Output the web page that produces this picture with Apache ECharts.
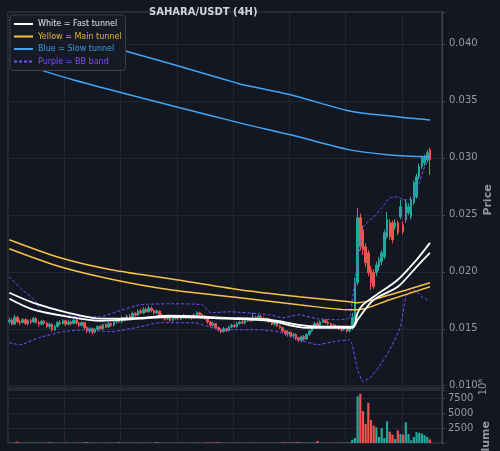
<!DOCTYPE html>
<html>
<head>
<meta charset="utf-8">
<script src="https://cdn.jsdelivr.net/npm/echarts@6.0.0/dist/echarts.min.js"></script>
<style>
  html, body { margin: 0; padding: 0; background: #131722; }
  #chart { width: 500px; height: 451px; }
</style>
</head>
<body>
<div id="chart"></div>
<script>
// prices in units of 1e-5 USDT, one candle per 4H slot
const opens = [
  1560, 1575, 1540, 1600, 1560, 1555, 1580, 1545, 1570, 1560,
  1590, 1555, 1540, 1565, 1550, 1520, 1540, 1490, 1520, 1555,
  1545, 1570, 1540, 1560, 1545, 1575, 1550, 1530, 1555, 1510,
  1480, 1500, 1470, 1495, 1520, 1500, 1535, 1515, 1545, 1530,
  1560, 1575, 1560, 1595, 1580, 1610, 1600, 1635, 1620, 1655,
  1640, 1670, 1650, 1680, 1660, 1640, 1655, 1620, 1600, 1585,
  1600, 1575, 1590, 1605, 1585, 1600, 1615, 1595, 1610, 1595,
  1620, 1640, 1625, 1610, 1590, 1560, 1530, 1545, 1510, 1490,
  1475, 1500, 1485, 1515, 1530, 1520, 1545, 1560, 1550, 1570,
  1585, 1570, 1600, 1590, 1610, 1595, 1580, 1590, 1560, 1540,
  1550, 1525, 1510, 1480, 1455, 1470, 1440, 1450, 1420, 1400,
  1430, 1410, 1450, 1480, 1510, 1545, 1530, 1560, 1575, 1555,
  1545, 1530, 1515, 1525, 1505, 1490, 1500, 1480, 1509, 1600,
  1904, 2474, 2368, 2219, 2167, 2018, 1991, 1991, 2044, 2088,
  2132, 2307, 2430, 2430, 2395, 2430, 2482, 2412, 2456, 2518,
  2482, 2605, 2658, 2833, 2921, 2956, 2982, 3070
]
const closes = [
  1575, 1540, 1600, 1560, 1555, 1580, 1545, 1570, 1560, 1590,
  1555, 1540, 1565, 1550, 1520, 1540, 1490, 1520, 1555, 1545,
  1570, 1540, 1560, 1545, 1575, 1550, 1530, 1555, 1510, 1480,
  1500, 1470, 1495, 1520, 1500, 1535, 1515, 1545, 1530, 1560,
  1575, 1560, 1595, 1580, 1610, 1600, 1635, 1620, 1655, 1640,
  1670, 1650, 1680, 1660, 1640, 1655, 1620, 1600, 1585, 1600,
  1575, 1590, 1605, 1585, 1600, 1615, 1595, 1610, 1595, 1620,
  1640, 1625, 1610, 1590, 1560, 1530, 1545, 1510, 1490, 1475,
  1500, 1485, 1515, 1530, 1520, 1545, 1560, 1550, 1570, 1585,
  1570, 1600, 1590, 1610, 1595, 1580, 1590, 1560, 1540, 1550,
  1525, 1510, 1480, 1455, 1470, 1440, 1450, 1420, 1400, 1430,
  1410, 1450, 1480, 1510, 1545, 1530, 1560, 1575, 1555, 1545,
  1530, 1515, 1525, 1505, 1490, 1500, 1480, 1509, 1600, 1904,
  2474, 2219, 2193, 2079, 1991, 1904, 1870, 2060, 2105, 2167,
  2342, 2456, 2307, 2281, 2430, 2342, 2570, 2351, 2605, 2570,
  2632, 2781, 2833, 2921, 3000, 3000, 3044, 2982
]
const lows = [
  1545, 1530, 1535, 1550, 1530, 1545, 1535, 1530, 1540, 1550,
  1545, 1520, 1530, 1535, 1505, 1500, 1475, 1480, 1510, 1530,
  1535, 1525, 1530, 1530, 1540, 1535, 1515, 1520, 1495, 1460,
  1455, 1450, 1460, 1480, 1490, 1490, 1505, 1505, 1515, 1520,
  1545, 1550, 1550, 1565, 1570, 1590, 1590, 1605, 1610, 1630,
  1630, 1640, 1640, 1645, 1625, 1630, 1610, 1585, 1570, 1575,
  1560, 1565, 1580, 1575, 1575, 1590, 1585, 1585, 1580, 1590,
  1610, 1615, 1600, 1580, 1545, 1515, 1520, 1495, 1475, 1460,
  1465, 1470, 1475, 1505, 1510, 1510, 1535, 1540, 1540, 1560,
  1560, 1565, 1580, 1580, 1585, 1570, 1570, 1550, 1530, 1525,
  1515, 1500, 1465, 1440, 1430, 1425, 1420, 1400, 1385, 1380,
  1395, 1400, 1440, 1470, 1500, 1520, 1520, 1550, 1545, 1530,
  1520, 1505, 1500, 1490, 1475, 1480, 1465, 1470, 1490, 1580,
  1880, 2190, 2150, 2040, 1960, 1842, 1850, 1960, 2010, 2060,
  2110, 2290, 2280, 2250, 2370, 2320, 2460, 2330, 2430, 2500,
  2460, 2590, 2640, 2810, 2900, 2930, 2960, 2850
]
const highs = [
  1600, 1590, 1625, 1610, 1580, 1595, 1590, 1585, 1590, 1605,
  1600, 1570, 1580, 1575, 1560, 1555, 1545, 1535, 1570, 1575,
  1585, 1580, 1580, 1570, 1590, 1585, 1560, 1565, 1560, 1520,
  1515, 1510, 1505, 1530, 1535, 1545, 1550, 1560, 1555, 1575,
  1590, 1595, 1610, 1605, 1625, 1630, 1650, 1645, 1670, 1675,
  1690, 1685, 1700, 1695, 1670, 1670, 1660, 1635, 1610, 1615,
  1610, 1605, 1620, 1615, 1620, 1630, 1625, 1625, 1620, 1635,
  1655, 1650, 1635, 1620, 1600, 1570, 1560, 1550, 1520, 1505,
  1515, 1510, 1525, 1545, 1545, 1560, 1570, 1575, 1585, 1600,
  1595, 1640, 1615, 1625, 1620, 1605, 1600, 1595, 1570, 1565,
  1555, 1535, 1520, 1490, 1485, 1475, 1465, 1460, 1430, 1440,
  1445, 1460, 1495, 1520, 1560, 1565, 1575, 1590, 1585, 1570,
  1555, 1545, 1540, 1530, 1515, 1515, 1505, 1520, 1640, 1950,
  2561, 2510, 2400, 2250, 2190, 2050, 2020, 2090, 2130, 2190,
  2370, 2526, 2460, 2450, 2460, 2450, 2632, 2440, 2630, 2600,
  2660, 2800, 2860, 2950, 3020, 3030, 3070, 3088
]
// volume, x 10^6
const volumes = [
  60, 45, 90, 220, 50, 40, 70, 35, 55, 80,
  40, 30, 65, 50, 45, 120, 90, 40, 30, 55,
  35, 60, 45, 30, 50, 40, 70, 55, 110, 140,
  90, 60, 45, 70, 40, 35, 55, 80, 45, 60,
  50, 130, 45, 60, 40, 50, 70, 45, 90, 60,
  40, 55, 35, 65, 45, 170, 60, 40, 35, 50,
  45, 60, 40, 35, 55, 45, 30, 50, 40, 60,
  75, 45, 40, 60, 90, 110, 60, 80, 140, 70,
  50, 45, 60, 40, 35, 55, 45, 40, 60, 50,
  35, 70, 45, 40, 55, 40, 35, 50, 60, 45,
  40, 55, 90, 130, 80, 100, 75, 120, 150, 90,
  70, 60, 80, 75, 95, 350, 60, 45, 40, 55,
  40, 50, 35, 45, 60, 55, 70, 90, 550, 830,
  7800, 8200, 5300, 3200, 6700, 3800, 2900, 2600, 1000, 2500,
  830, 3600, 1900, 1400, 670, 2100, 1500, 1400, 3450, 1500,
  450, 1000, 1800, 1700, 1560, 1280, 1000, 600
]

// indicator lines, [candle index, price]
const fastUpper = [[0, 1816], [9, 1728], [22, 1640], [34, 1588], [49, 1596], [60, 1614], [81, 1596], [97, 1579],
  [111, 1526], [128, 1518], [130, 1640], [132, 1711], [136, 1781], [145, 1930], [152, 2105], [157, 2254]]
const fastLower = [[0, 1763], [9, 1667], [22, 1605], [34, 1570], [49, 1588], [60, 1605], [81, 1588], [97, 1570],
  [111, 1509], [128, 1509], [130, 1579], [136, 1754], [145, 1868], [152, 2044], [157, 2167]]
const mainUpper = [[0, 2281], [19, 2123], [38, 2018], [60, 1939], [86, 1842], [108, 1781], [127, 1737], [130, 1728],
  [142, 1798], [157, 1904]]
const mainLower = [[0, 2202], [19, 2044], [39, 1930], [60, 1842], [86, 1772], [108, 1711], [127, 1667], [130, 1667],
  [142, 1755], [157, 1868]]
const slowUpper = [[0, 4211], [42, 3947], [81, 3684], [86, 3649], [105, 3553], [127, 3412], [142, 3368], [157, 3333]]
const slowLower = [[0, 3860], [24, 3684], [86, 3307], [105, 3202], [127, 3070], [142, 3026], [157, 3009]]
const bbUpper = [[0, 1956], [4, 1860], [10, 1737], [12, 1649], [19, 1623], [26, 1605], [34, 1605], [40, 1649],
  [49, 1711], [60, 1719], [72, 1711], [75, 1640], [82, 1649], [97, 1623], [102, 1596], [108, 1623], [115, 1588],
  [123, 1579], [127, 1596], [128, 1754], [130, 2079], [132, 2395], [136, 2482], [139, 2561], [142, 2649],
  [145, 2658], [147, 2632], [150, 2632], [153, 2781], [155, 2921], [157, 3009]]
const bbLower = [[0, 1377], [4, 1360], [11, 1421], [20, 1474], [28, 1491], [38, 1474], [49, 1518], [56, 1553],
  [69, 1553], [79, 1491], [94, 1491], [102, 1465], [108, 1404], [115, 1360], [121, 1386], [127, 1404], [128, 1360],
  [130, 1140], [132, 1035], [135, 1079], [138, 1167], [142, 1316], [146, 1518], [148, 1781], [151, 1842],
  [154, 1781], [156, 1754], [157, 1745]]

const priceTicks = [1000, 1500, 2000, 2500, 3000, 3500, 4000]
const volumeTicks = [2500, 5000, 7500]
const slotCount = 162
const slots = Array.from({ length: slotCount }, (_, i) => String(i))

const UP = '#26a69a'
const DOWN = '#ef5350'
const GRID_LINE = '#232733'
const FRAME = '#434651'
const LABEL = '#9598a1'

const candles = opens.map((o, i) => [o, closes[i], lows[i], highs[i]])
const volumeBars = volumes.map((v, i) => ({
  value: v,
  itemStyle: { color: closes[i] >= opens[i] ? UP : DOWN }
}))

function tunnel(name, data, color, width, dashed) {
  return {
    name: name,
    type: 'line',
    xAxisIndex: 0,
    yAxisIndex: 0,
    data: data,
    symbol: 'none',
    showSymbol: false,
    smooth: dashed ? 0.15 : 0.3,
    lineStyle: { color: color, width: width, type: dashed ? [3, 2] : 'solid' },
    itemStyle: { color: color },
    z: 3
  }
}

const chart = echarts.init(document.getElementById('chart'))
chart.setOption({
  animation: false,
  backgroundColor: '#131722',
  textStyle: { fontFamily: 'DejaVu Sans' },
  title: {
    text: 'SAHARA/USDT (4H)',
    left: 149,
    top: 7,
    padding: 0,
    textStyle: { color: '#d1d4dc', fontSize: 10, fontWeight: 'bold', fontFamily: 'DejaVu Sans' }
  },
  legend: {
    orient: 'vertical',
    left: 10,
    top: 15,
    padding: [5, 4, 5, 3],
    itemWidth: 19,
    itemHeight: 8,
    itemGap: 4.5,
    backgroundColor: '#151a24',
    borderColor: '#3a3f4b',
    borderWidth: 1,
    borderRadius: 3,
    itemStyle: { opacity: 0 },
    lineStyle: { width: 2 },
    textStyle: { fontSize: 8, fontFamily: 'DejaVu Sans' },
    data: [
      { name: 'White = Fast tunnel', textStyle: { color: '#e6e6e6' } },
      { name: 'Yellow = Main tunnel', textStyle: { color: '#e2b637' } },
      { name: 'Blue = Slow tunnel', textStyle: { color: '#3d9be0' } },
      { name: 'Purple = BB band', textStyle: { color: '#7c4dff' } }
    ]
  },
  grid: [
    { left: 8, right: 58, top: 12, height: 376, outerBoundsMode: 'none', show: true, borderColor: FRAME, borderWidth: 1 },
    { left: 8, right: 58, top: 390, height: 53, outerBoundsMode: 'none', show: true, borderColor: FRAME, borderWidth: 1 }
  ],
  xAxis: [
    {
      type: 'category', gridIndex: 0, data: slots, boundaryGap: true,
      axisLine: { show: false }, axisTick: { show: false }, axisLabel: { show: false },
      splitLine: { show: true, interval: 20, lineStyle: { color: GRID_LINE } }
    },
    {
      type: 'category', gridIndex: 1, data: slots, boundaryGap: true,
      axisLine: { show: false }, axisTick: { show: false }, axisLabel: { show: false },
      splitLine: { show: true, interval: 20, lineStyle: { color: GRID_LINE } }
    }
  ],
  yAxis: [
    {
      type: 'value', gridIndex: 0, position: 'right', scale: true,
      min: 980, max: 4280, splitNumber: 7,
      name: 'Price', nameLocation: 'middle', nameRotate: 90, nameGap: 41, nameMoveOverlap: false,
      nameTextStyle: { color: LABEL, fontSize: 11, fontWeight: 'bold' },
      axisLine: { show: true, lineStyle: { color: FRAME } },
      axisTick: { show: true, length: 3, lineStyle: { color: FRAME } },
      axisLabel: {
        color: LABEL, fontSize: 10, margin: 7,
        formatter: v => priceTicks.includes(Math.round(v)) ? (v / 100000).toFixed(3) : ''
      },
      splitLine: { show: true, lineStyle: { color: GRID_LINE } }
    },
    {
      type: 'value', gridIndex: 1, position: 'right',
      min: 0, max: 8830, interval: 2500,
      axisLine: { show: true, lineStyle: { color: FRAME } },
      axisTick: { show: true, length: 3, lineStyle: { color: FRAME } },
      axisLabel: {
        color: LABEL, fontSize: 10, margin: 6,
        formatter: v => volumeTicks.includes(Math.round(v)) ? String(v) : ''
      },
      splitLine: { show: true, lineStyle: { color: GRID_LINE } }
    }
  ],
  graphic: [
    {
      type: 'text', x: 486, y: 444, rotation: Math.PI / 2,
      style: { text: 'Volume', fill: LABEL, fontSize: 11, fontWeight: 'bold', fontFamily: 'DejaVu Sans',
        align: 'center', verticalAlign: 'middle', textAlign: 'center', textVerticalAlign: 'middle' }
    },
    {
      type: 'text', x: 483, y: 387, rotation: Math.PI / 2,
      style: { text: '10⁶', fill: LABEL, fontSize: 10, fontFamily: 'DejaVu Sans',
        align: 'center', verticalAlign: 'middle', textAlign: 'center', textVerticalAlign: 'middle' }
    }
  ],
  series: [
    {
      name: 'SAHARA/USDT',
      type: 'candlestick',
      xAxisIndex: 0,
      yAxisIndex: 0,
      data: candles,
      barWidth: 2,
      itemStyle: { color: UP, color0: DOWN, borderColor: UP, borderColor0: DOWN, borderWidth: 1 },
      z: 2
    },
    tunnel('Purple = BB band', bbUpper, '#7c4dff', 1, true),
    tunnel('Purple = BB band', bbLower, '#7c4dff', 1, true),
    tunnel('Blue = Slow tunnel', slowUpper, '#42a5f5', 1.5, false),
    tunnel('Blue = Slow tunnel', slowLower, '#42a5f5', 1.5, false),
    tunnel('Yellow = Main tunnel', mainUpper, '#f5c542', 1.5, false),
    tunnel('Yellow = Main tunnel', mainLower, '#f5c542', 1.5, false),
    tunnel('White = Fast tunnel', fastUpper, '#ffffff', 1.8, false),
    tunnel('White = Fast tunnel', fastLower, '#ffffff', 1.8, false),
    {
      name: 'Volume',
      type: 'bar',
      xAxisIndex: 1,
      yAxisIndex: 1,
      data: volumeBars,
      barWidth: 2.2
    }
  ]
})
</script>
</body>
</html>
